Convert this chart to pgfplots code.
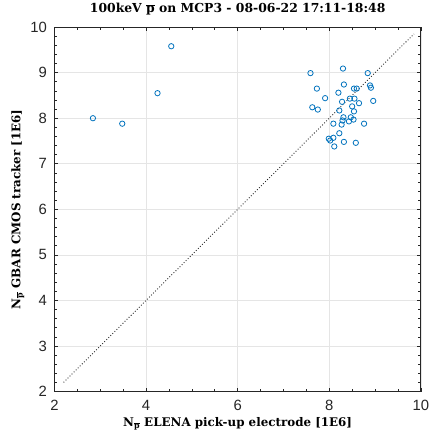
\documentclass[border=0pt]{standalone}
\usepackage{pgfplots}
\pgfplotsset{compat=1.18}
\usepackage{fontspec}
\newfontfamily\helv{Liberation Sans}
\newfontfamily\dvs{DejaVu Serif}
\definecolor{mblue}{rgb}{0,0.447,0.741}
\newcommand{\tk}[1]{\mbox{\helv\fontsize{15}{17}\selectfont\color{black!85}#1}}
\newcommand{\pbar}{$\overline{\hbox{p}}$}
\newcommand{\Np}{N$_{\overline{\hbox{\fontsize{8}{9}\selectfont p}}}$}
\begin{document}
\begin{tikzpicture}
\begin{axis}[
  scale only axis,
  width=370pt, height=368pt,
  xmin=2, xmax=10, ymin=2, ymax=10,
  xtick={2,4,...,10}, ytick={2,3,...,10},
  xticklabel={\tk{\pgfmathprintnumber[assume math mode=true]{\tick}}},
  yticklabel={\tk{\pgfmathprintnumber[assume math mode=true]{\tick}}},
  xticklabel style={yshift=-5pt},
  yticklabel style={xshift=-4pt},
  minor x tick num=3, minor y tick num=4,
  tick align=inside,
  major tick length=4pt, minor tick length=2.5pt,
  tick style={black!85, line width=0.6pt},
  axis line style={black!85, line width=0.8pt},
  grid=major, grid style={gray!20, line width=0.6pt},
  title={100keV \pbar{} on MCP3 - 08-06-22 17:11-18:48},
  title style={font=\dvs\bfseries\fontsize{12.5}{15}\selectfont, at={(rel axis cs:0.5,1)}, anchor=center, yshift=12pt},
  xlabel={\Np{} ELENA pick-up electrode [1E6]},
  ylabel={\Np{} GBAR CMOS tracker [1E6]},
  xlabel style={font=\dvs\bfseries\fontsize{12}{14}\selectfont, at={(rel axis cs:0.5,0)}, anchor=center, yshift=-33pt},
  ylabel style={font=\dvs\bfseries\fontsize{12}{14}\selectfont, at={(rel axis cs:0,0.5)}, anchor=center, yshift=37pt},
  clip=true,
]
\coordinate (sw) at (rel axis cs:0,0);
\coordinate (ne) at (rel axis cs:1,1);
\addplot[black!85, dotted, line width=0.9pt] coordinates {(2.2,2.2) (9.85,9.85)};
\addplot[only marks, mark=o, mark size=2.7pt, mblue, mark options={line width=0.8pt}] coordinates {
  (2.84,8.00) (3.48,7.88) (4.25,8.55) (4.55,9.58)
  (7.59,8.99) (8.30,9.09) (8.84,8.99)
  (7.73,8.65) (8.32,8.74) (8.54,8.65) (8.60,8.65) (8.89,8.72) (8.91,8.67)
  (8.20,8.56) (7.91,8.44) (8.45,8.43) (8.55,8.43) (8.28,8.36) (8.65,8.33) (8.96,8.38)
  (7.63,8.24) (7.75,8.19) (8.50,8.26) (8.22,8.17) (8.54,8.15)
  (8.31,8.02) (8.47,8.02) (8.29,7.95) (8.43,7.93) (8.53,7.97)
  (8.09,7.88) (8.27,7.86) (8.76,7.88)
  (8.22,7.67) (8.09,7.57) (7.99,7.55) (8.02,7.51) (8.32,7.48) (8.58,7.46) (8.11,7.38)
};
\end{axis}
\path ([shift={(-55pt,-52pt)}]sw) rectangle ([shift={(9pt,23pt)}]ne);
\end{tikzpicture}
\end{document}
